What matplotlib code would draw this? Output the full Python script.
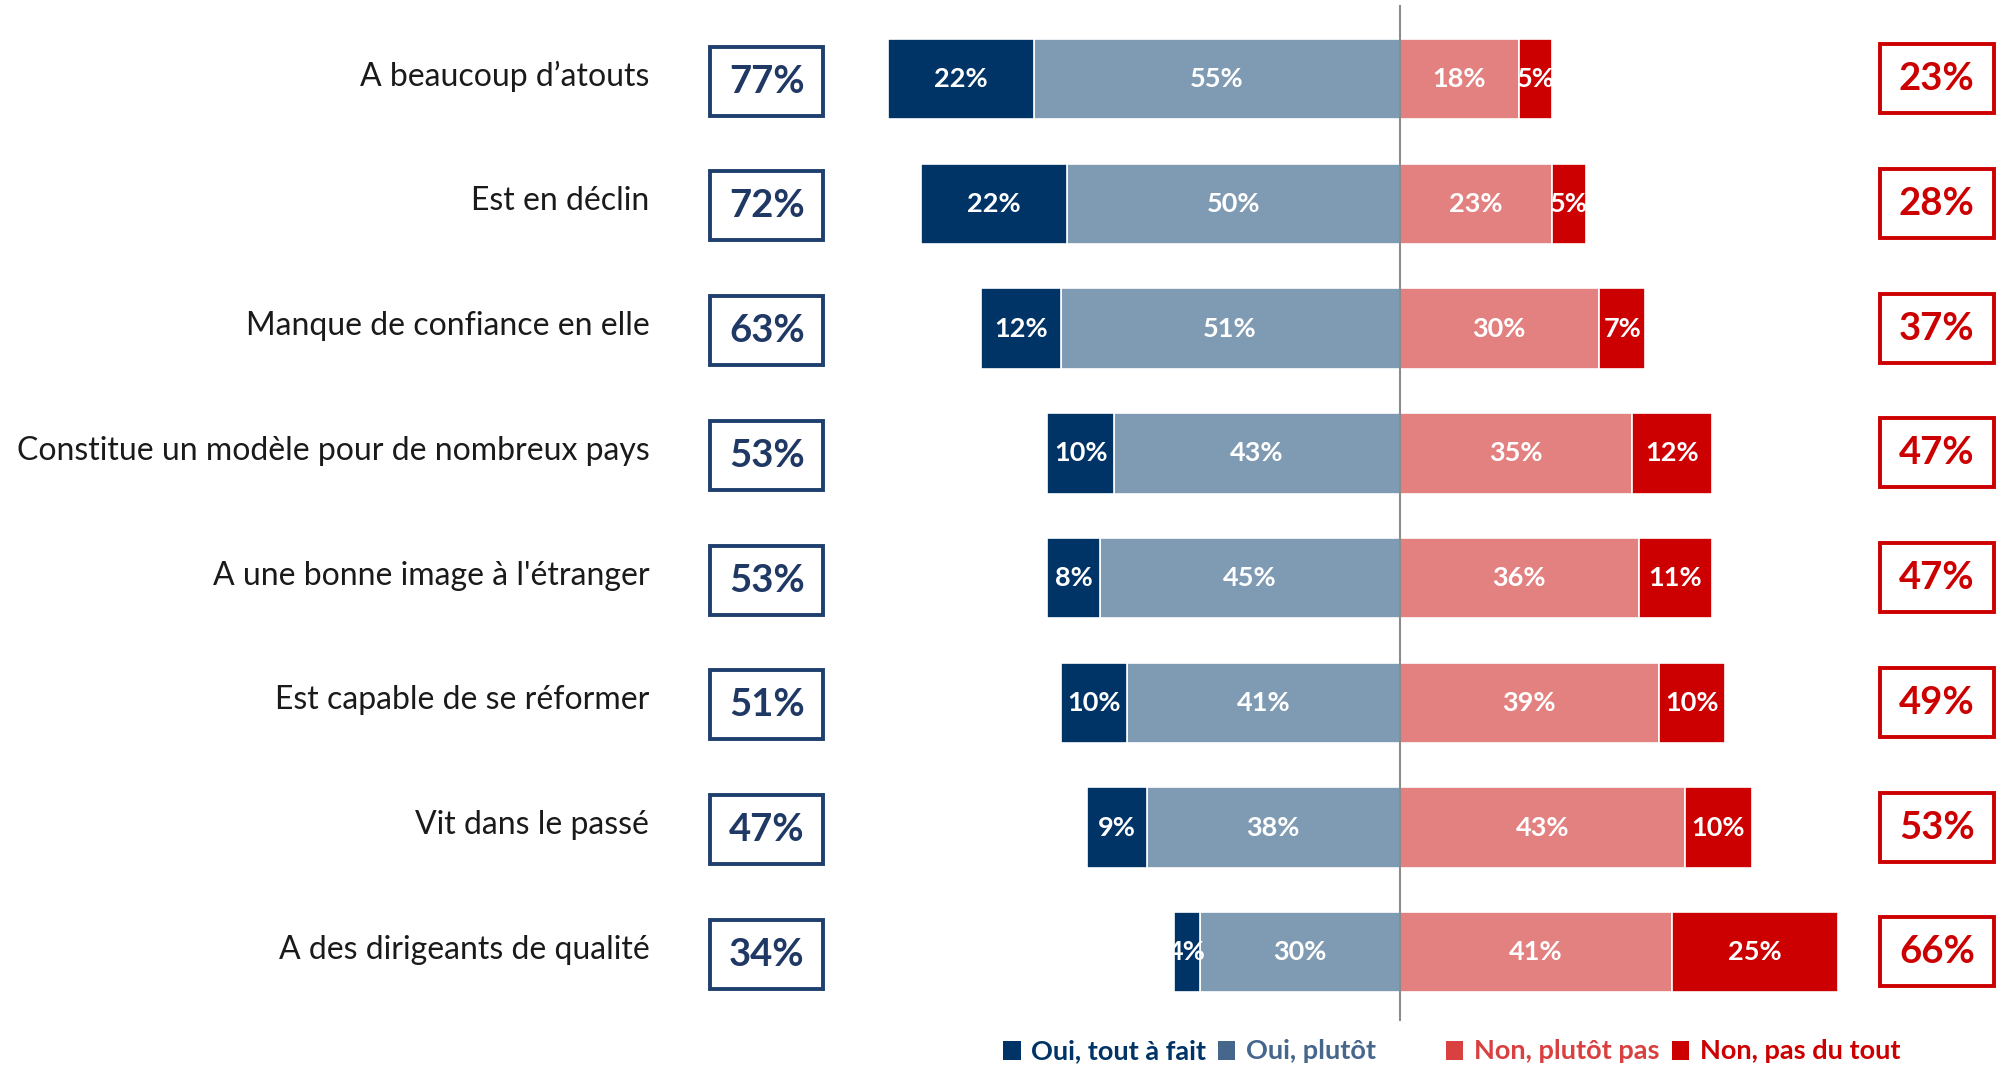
import matplotlib.pyplot as plt
import matplotlib.patches as mpatches

# ---- data ----
categories = [
    "A beaucoup d\u2019atouts",
    "Est en déclin",
    "Manque de confiance en elle",
    "Constitue un modèle pour de nombreux pays",
    "A une bonne image à l'étranger",
    "Est capable de se réformer",
    "Vit dans le passé",
    "A des dirigeants de qualité",
]
oui_tout_a_fait = [22, 22, 12, 10, 8, 10, 9, 4]
oui_plutot = [55, 50, 51, 43, 45, 41, 38, 30]
non_plutot_pas = [18, 23, 30, 35, 36, 39, 43, 41]
non_pas_du_tout = [5, 5, 7, 12, 11, 10, 10, 25]
total_oui = [77, 72, 63, 53, 53, 51, 47, 34]
total_non = [23, 28, 37, 47, 47, 49, 53, 66]
legend_labels = ["Oui, tout à fait", "Oui, plutôt", "Non, plutôt pas", "Non, pas du tout"]

NAVY = "#003366"
GREYBLUE = "#7F9AB3"
PINK = "#E38080"
RED = "#CC0000"
FONT = "Lato"

fig = plt.figure(figsize=(20.04, 10.67), dpi=100)
ax = fig.add_axes([0, 0, 1, 1])
ax.set_xlim(-210.6, 90.96)
ax.set_ylim(7.92, -0.635)
ax.axis("off")

y = list(range(len(categories)))
h = 0.645

# left side (negative direction)
b1 = ax.barh(y, [-v for v in oui_plutot], height=h, color=GREYBLUE,
             edgecolor="white", linewidth=1.2)
b0 = ax.barh(y, [-v for v in oui_tout_a_fait], left=[-v for v in oui_plutot],
             height=h, color=NAVY, edgecolor="white", linewidth=1.2)
# right side
b2 = ax.barh(y, non_plutot_pas, height=h, color=PINK, edgecolor="white", linewidth=1.2)
b3 = ax.barh(y, non_pas_du_tout, left=non_plutot_pas, height=h, color=RED,
             edgecolor="white", linewidth=1.2)

for bars, vals in [(b0, oui_tout_a_fait), (b1, oui_plutot),
                   (b2, non_plutot_pas), (b3, non_pas_du_tout)]:
    for rect, v in zip(bars, vals):
        cx = rect.get_x() + rect.get_width() / 2
        cy = rect.get_y() + rect.get_height() / 2
        ax.text(cx, cy, f"{v}%", ha="center", va="center", color="white",
                fontsize=19.5, fontweight="bold", family=FONT)

# center line
ax.plot([0, 0], [-0.584, 7.54], color="#8c8c8c", lw=1.5, zorder=5)

# category labels and total boxes
for i, cat in enumerate(categories):
    ax.text(-112.9, i - 0.02, cat, ha="right", va="center", fontsize=23,
            color="#1a1a1a", family=FONT)

    lb = mpatches.Rectangle((-103.7, i - 0.26), 17.0, 0.553, facecolor="white",
                            edgecolor="#1F3F6F", linewidth=2.8)
    ax.add_patch(lb)
    ax.text(-95.2, i + 0.02, f"{total_oui[i]}%", ha="center", va="center",
            fontsize=27.5, fontweight="bold", color="#1F3864", family=FONT)

    rb = mpatches.Rectangle((72.3, i - 0.28), 17.1, 0.553, facecolor="white",
                            edgecolor=RED, linewidth=2.8)
    ax.add_patch(rb)
    ax.text(80.85, i, f"{total_non[i]}%", ha="center", va="center",
            fontsize=27.5, fontweight="bold", color=RED, family=FONT)

# legend (manual, like the original layout)
leg_x = [-58.3, -26.0, 8.3, 42.3]
leg_col = [NAVY, "#46668C", "#D94040", RED]
for x0, lab, c in zip(leg_x, legend_labels, leg_col):
    ax.add_patch(mpatches.Rectangle((x0 - 1.3, 7.79 - 0.075), 2.6, 0.15,
                                    facecolor=c, edgecolor="none"))
    ax.text(x0 + 2.9, 7.79, lab, ha="left", va="center", fontsize=19.5,
            fontweight="bold", color=c, family=FONT)

fig.savefig("out.png", dpi=100, facecolor="white")
